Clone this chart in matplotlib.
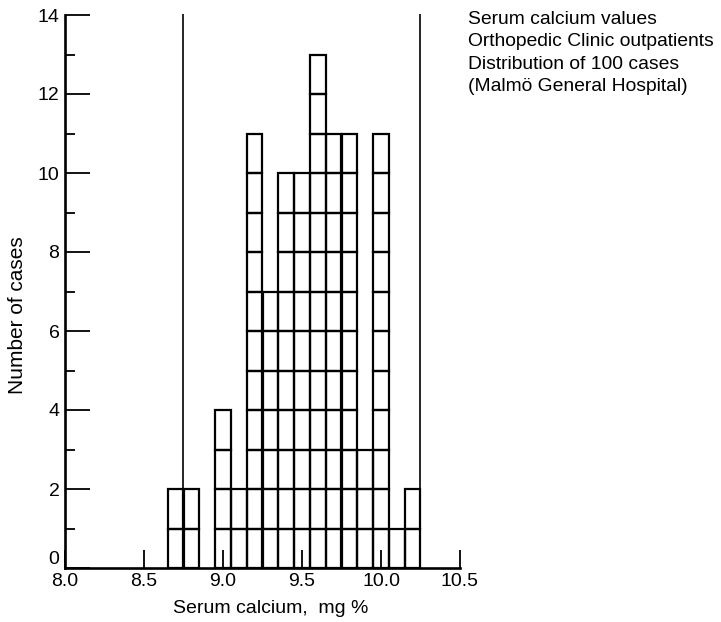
import numpy as np
import matplotlib
matplotlib.use('Agg')
import matplotlib.pyplot as plt
from matplotlib.ticker import MultipleLocator

plt.rcParams['font.family'] = ['Liberation Sans', 'DejaVu Sans']

# serum calcium histogram, 0.1 mg% classes
centers = [8.7, 8.8, 9.0, 9.1, 9.2, 9.3, 9.4, 9.5, 9.6, 9.7, 9.8, 9.9, 10.0, 10.1, 10.2]
counts = [2, 2, 4, 2, 11, 7, 10, 10, 13, 11, 11, 3, 11, 1, 2]
# limits drawn as vertical lines
limits = [8.745, 10.245]
xticks = [8.0, 8.5, 9.0, 9.5, 10.0, 10.5]
yticks = [0, 2, 4, 6, 8, 10, 12, 14]
note = ['Serum calcium values',
        'Orthopedic Clinic outpatients',
        'Distribution of 100 cases',
        '(Malmö General Hospital)']

fig = plt.figure(figsize=(7.21, 6.22), dpi=100)
ax = fig.add_axes([65/721, 1 - 568/622, 395/721, 553/622])

centers = np.array(centers)
counts = np.array(counts)
# each case is one box, stacked up
for k in range(counts.max()):
    sel = counts > k
    ax.bar(centers[sel], 1, bottom=k, width=0.1, fill=False,
           edgecolor='black', linewidth=1.6)

ax.vlines(limits, 0, 14.03, color='black', linewidth=1.2, clip_on=False)

ax.set_xlim(8.0, 10.5)
ax.set_ylim(0, 14)
ax.spines['top'].set_visible(False)
ax.spines['right'].set_visible(False)
for s in ['left', 'bottom']:
    ax.spines[s].set_linewidth(1.9)

ax.set_xticks(xticks)
ax.set_xticklabels(['%.1f' % v for v in xticks])
ax.set_yticks(yticks)
ax.yaxis.set_minor_locator(MultipleLocator(1))
ax.tick_params(axis='x', direction='in', length=13, width=1.3, pad=3.5, labelsize=14)
ax.tick_params(axis='y', which='major', direction='in', length=18, width=1.3, pad=4, labelsize=14)
ax.tick_params(axis='y', which='minor', direction='in', length=7, width=1.3)
# keep the zero clear of the 8.0 below it
ax.get_yticklabels()[0].set_verticalalignment('bottom')

ax.set_xlabel('Serum calcium,  mg %', fontsize=14)
ax.xaxis.set_label_coords(0.52, -0.057)
ax.set_ylabel('Number of cases', fontsize=15)
ax.yaxis.set_label_coords(-0.096, 0.457)

fig.text(468/721, 0.982, '\n'.join(note), ha='left', va='top',
         fontsize=13.9, linespacing=1.4)

fig.savefig('out.png', dpi=100)
